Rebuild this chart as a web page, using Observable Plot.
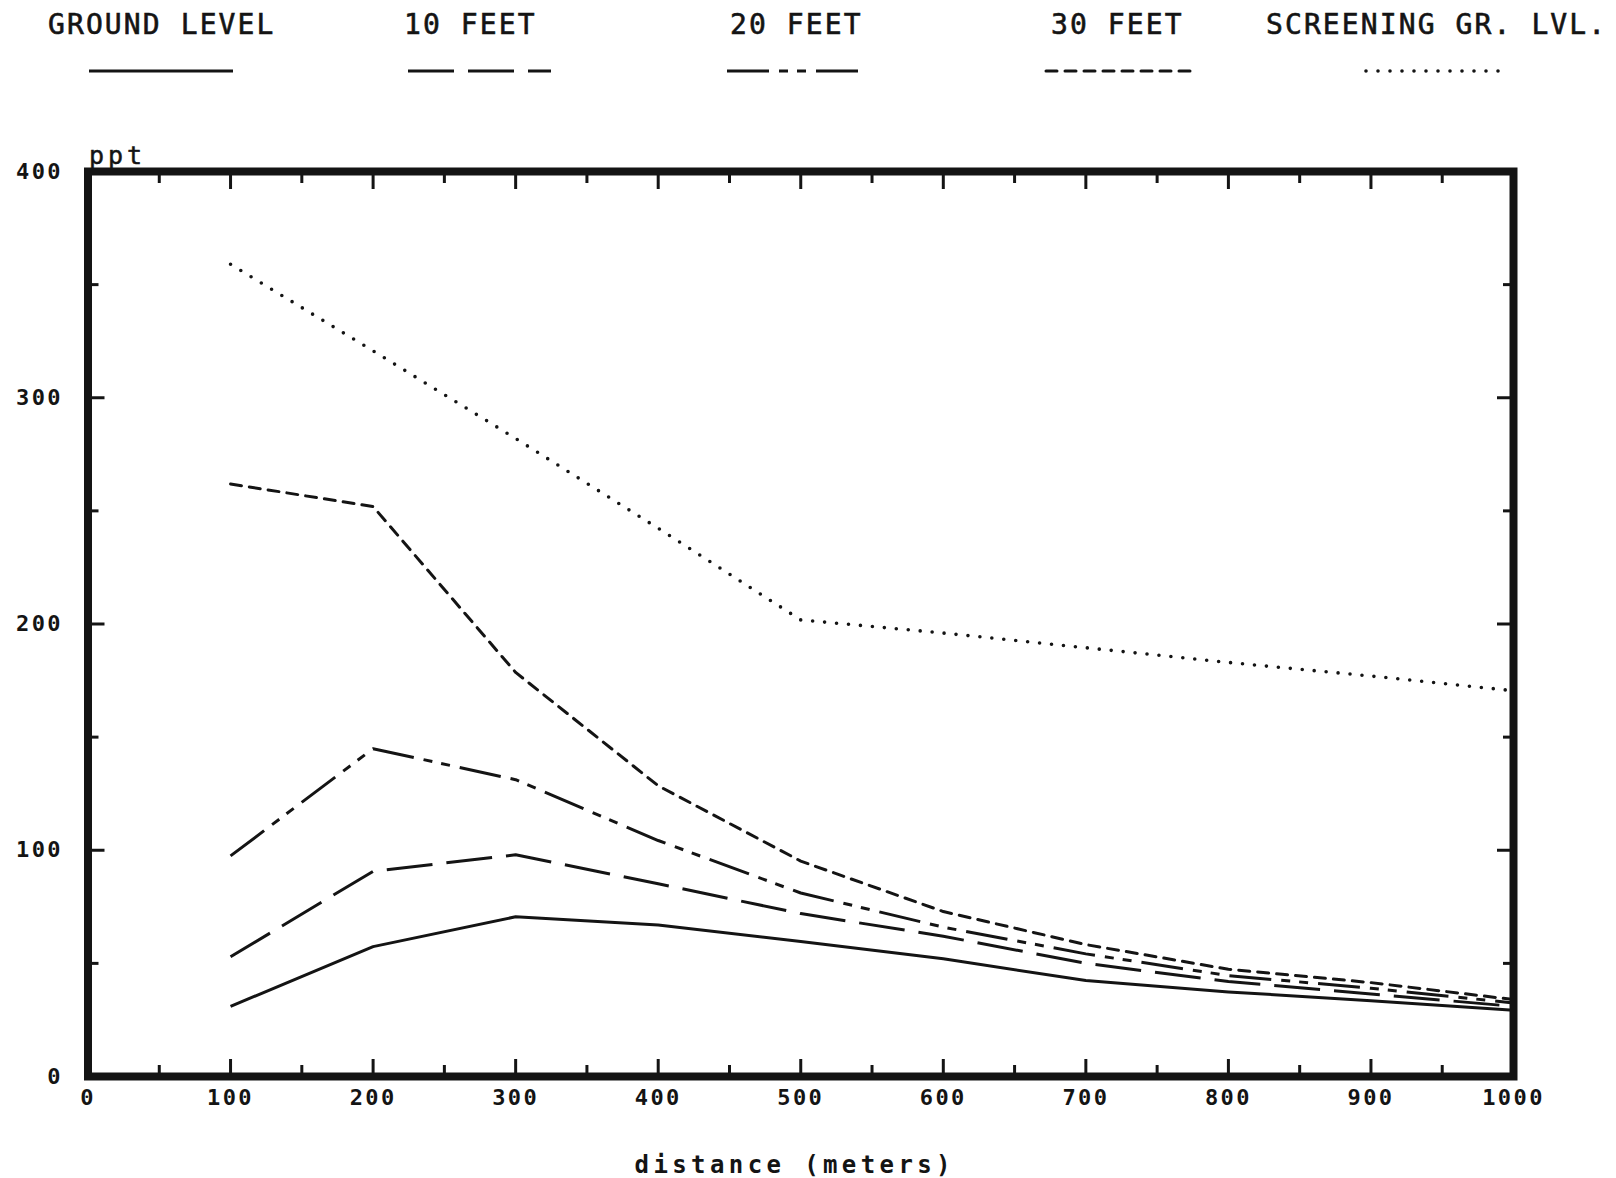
<!DOCTYPE html>
<html>
<head>
<meta charset="utf-8">
<script src="https://cdn.jsdelivr.net/npm/d3@7"></script>
<script src="https://cdn.jsdelivr.net/npm/@observablehq/plot@0.6"></script>
<style>
  html, body { margin: 0; padding: 0; background: #fff; }
  #chart { width: 1616px; height: 1178px; overflow: hidden; background: #fff; }
  #chart svg { display: block; }
</style>
</head>
<body>
<div id="chart"></div>
<script>
// ---------------- data ----------------
const distance    = [100, 200, 300, 400, 500, 600, 700, 800, 900, 1000];
const groundLevel = [31, 57.4, 70.6, 67, 59.7, 52, 42.4, 37.4, 33.5, 29.3];
const feet10      = [52.9, 90.7, 98, 85.2, 72, 62, 50, 42, 36.5, 31];
const feet20      = [97.5, 144.9, 131.2, 104.3, 81.1, 66, 54.2, 44.6, 39, 32.5];
const feet30      = [261.9, 251.9, 178.6, 128.5, 95.2, 72.9, 58.3, 47.4, 41.5, 34];
const screening   = [359, 320.7, 282, 242.3, 201.8, 196, 189.5, 183, 177, 170.5];

const seriesNames = ["GROUND LEVEL", "10 FEET", "20 FEET", "30 FEET", "SCREENING GR. LVL."];
const seriesValues = [groundLevel, feet10, feet20, feet30, screening];

const xTicks      = [0, 100, 200, 300, 400, 500, 600, 700, 800, 900, 1000];
const xMinorTicks = [50, 150, 250, 350, 450, 550, 650, 750, 850, 950];
const yTicks      = [0, 100, 200, 300, 400];
const yMinorTicks = [50, 150, 250, 350];
const yUnitLabel  = "ppt";
const xTitle      = "distance (meters)";

// ---------------- styles ----------------
const ink = "#141414";
const dashStyles = [
  {dash: null,               cap: "butt"},
  {dash: "46,14",            cap: "butt"},
  {dash: "42,10,9,9,9,10",   cap: "butt"},
  {dash: "11,8",             cap: "round"},
  {dash: "0,12",             cap: "round"}
];
const lineWidths = [3, 3, 3, 3, 3.6];
const legendTextX = [48, 404, 730, 1051, 1266];
const legendSwatch = [[89, 233], [408, 551], [727, 864], [1046, 1193], [1366, 1510]];

// long-format table built from the arrays
const rows = seriesNames.flatMap((name, si) =>
  distance.map((d, i) => ({series: name, distance: d, value: seriesValues[si][i]})));

const chart = document.getElementById("chart");

// ---------------- legend (above the plot) ----------------
const legend = d3.create("svg").attr("width", 1616).attr("height", 110)
  .style("font-family", "'DejaVu Sans Mono', monospace");
seriesNames.forEach((name, i) => {
  legend.append("text")
    .attr("x", legendTextX[i]).attr("y", 34)
    .attr("font-size", 28).attr("letter-spacing", 2.1)
    .attr("stroke", ink).attr("stroke-width", 0.6)
    .attr("fill", ink).text(name);
  legend.append("line")
    .attr("x1", legendSwatch[i][0]).attr("x2", legendSwatch[i][1])
    .attr("y1", 71).attr("y2", 71)
    .attr("stroke", ink).attr("stroke-width", lineWidths[i])
    .attr("stroke-dasharray", dashStyles[i].dash)
    .attr("stroke-linecap", dashStyles[i].cap);
});
chart.appendChild(legend.node());

// ---------------- plot ----------------
const fmt = d => String(d);
const blank = () => "";
const tickStyle = {stroke: ink, strokeWidth: 3, label: null, tickFormat: blank};

const plot = Plot.plot({
  width: 1616,
  height: 1068,
  marginLeft: 87.5,
  marginRight: 103,
  marginTop: 61,
  marginBottom: 102,
  x: {domain: [0, 1000]},
  y: {domain: [0, 400]},
  style: {fontFamily: "'DejaVu Sans Mono', monospace", background: "#fff", color: ink},
  marks: [
    // inward ticks on all four sides
    Plot.axisX(xTicks,      {...tickStyle, anchor: "bottom", tickSize: -17}),
    Plot.axisX(xMinorTicks, {...tickStyle, anchor: "bottom", tickSize: -11}),
    Plot.axisX(xTicks,      {...tickStyle, anchor: "top", tickSize: -17}),
    Plot.axisX(xMinorTicks, {...tickStyle, anchor: "top", tickSize: -11}),
    Plot.axisY(yTicks,      {...tickStyle, anchor: "left", tickSize: -17}),
    Plot.axisY(yMinorTicks, {...tickStyle, anchor: "left", tickSize: -11}),
    Plot.axisY(yTicks,      {...tickStyle, anchor: "right", tickSize: -17}),
    Plot.axisY(yMinorTicks, {...tickStyle, anchor: "right", tickSize: -11}),
    // tick labels
    Plot.axisX(xTicks, {anchor: "bottom", tickSize: 0, tickPadding: 13, tickFormat: fmt,
      label: null, fontSize: 22, fontWeight: "bold", fill: ink}),
    Plot.axisY(yTicks, {anchor: "left", tickSize: 0, tickPadding: 25, tickFormat: fmt,
      label: null, fontSize: 22, fontWeight: "bold", fill: ink}),
    // series lines
    ...seriesNames.map((name, i) =>
      Plot.line(rows.filter(r => r.series === name), {
        x: "distance", y: "value",
        stroke: ink, strokeWidth: lineWidths[i],
        strokeDasharray: dashStyles[i].dash, strokeLinecap: dashStyles[i].cap,
        strokeLinejoin: "round"
      })),
    // frame
    Plot.frame({stroke: ink, strokeWidth: 8}),
    // unit and axis title
    Plot.text([yUnitLabel], {text: d => d, frameAnchor: "top-left", textAnchor: "start",
      lineAnchor: "middle", dx: 1, dy: -16, fontSize: 25, fill: ink,
      stroke: ink, strokeWidth: 0.5}),
    Plot.text([xTitle], {text: d => d, frameAnchor: "bottom", lineAnchor: "middle",
      dx: -6, dy: 89, fontSize: 24, fontWeight: "bold", fill: ink})
  ]
});
chart.appendChild(plot);

// letter spacing to mimic the wide plotter lettering
d3.select(plot).selectAll("text").each(function() {
  const t = this.textContent;
  if (t === xTitle) this.setAttribute("letter-spacing", 4.4);
  else if (t === yUnitLabel) this.setAttribute("letter-spacing", 4);
  else this.setAttribute("letter-spacing", 2.4);
});
</script>
</body>
</html>
